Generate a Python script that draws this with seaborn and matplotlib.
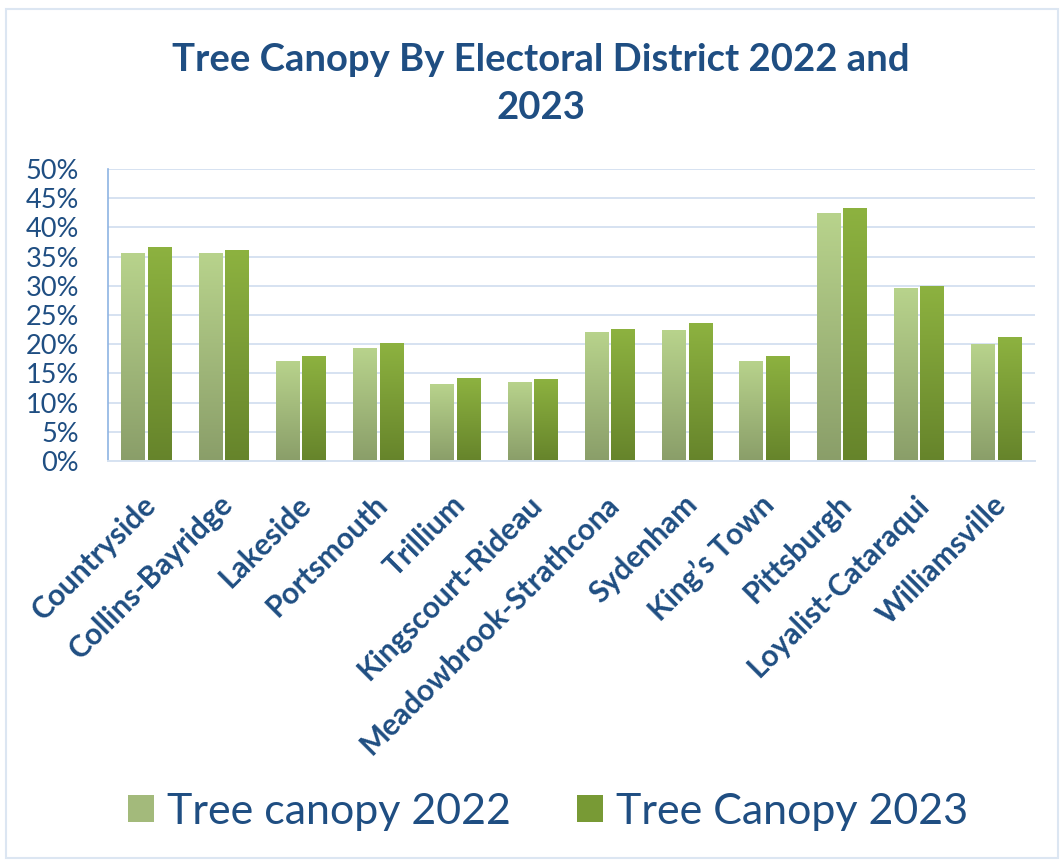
import numpy as np
import pandas as pd
import matplotlib
matplotlib.use("Agg")
import matplotlib.pyplot as plt
import seaborn as sns
from matplotlib.colors import LinearSegmentedColormap
from matplotlib.patches import Rectangle
from matplotlib.ticker import PercentFormatter
import matplotlib.transforms as mtransforms

districts = ["Countryside", "Collins-Bayridge", "Lakeside", "Portsmouth", "Trillium",
             "Kingscourt-Rideau", "Meadowbrook-Strathcona", "Sydenham", "King\u2019s Town",
             "Pittsburgh", "Loyalist-Cataraqui", "Williamsville"]
canopy_2022 = [35.6, 35.6, 17.2, 19.3, 13.1, 13.6, 22.1, 22.4, 17.2, 42.4, 29.6, 20.0]
canopy_2023 = [36.7, 36.1, 18.0, 20.2, 14.2, 14.1, 22.6, 23.6, 18.0, 43.3, 30.0, 21.2]
series_names = ["Tree canopy 2022", "Tree Canopy 2023"]
y_ticks = [0, 5, 10, 15, 20, 25, 30, 35, 40, 45, 50]

df = pd.DataFrame({
    "District": districts * 2,
    "Value": canopy_2022 + canopy_2023,
    "Series": [series_names[0]] * len(districts) + [series_names[1]] * len(districts),
})

sns.set_theme(style="white")
plt.rcParams["font.family"] = ["Lato", "DejaVu Sans"]

TXT = "#1F4E82"
top_cols = ["#B8D38C", "#8DB240"]
bot_cols = ["#8A9E69", "#66842B"]
mid_cols = ["#A3BA7B", "#789A35"]

fig = plt.figure(figsize=(10.60, 8.61), dpi=100)
ax = fig.add_axes([0.1019, 0.4646, 0.8745, 0.3391])

sns.barplot(data=df, x="District", y="Value", hue="Series", order=districts,
            hue_order=series_names, palette=mid_cols, width=0.69, gap=0.1,
            saturation=1, ax=ax, legend=True, errorbar=None)

n = len(districts)
# gradient fills clipped to each bar
for i, patch in enumerate(list(ax.patches)[: 2 * n]):
    s = i // n
    cmap = LinearSegmentedColormap.from_list(f"g{s}", [bot_cols[s], top_cols[s]])
    x0 = patch.get_x()
    w = patch.get_width()
    h = patch.get_height()
    grad = np.linspace(0, 1, 256).reshape(-1, 1)
    im = ax.imshow(grad, extent=[x0, x0 + w, 0, h], origin="lower", aspect="auto",
                   cmap=cmap, zorder=2.5, interpolation="bicubic")
    im.set_clip_path(patch)
    patch.set_facecolor("none")
    patch.set_edgecolor("none")

ax.set_ylim(0, 50)
ax.set_xlim(-0.5, n - 0.5)

ax.set_yticks(y_ticks)
ax.yaxis.set_major_formatter(PercentFormatter(decimals=0))
ax.grid(axis="y", color="#D6E2F1", linewidth=1.4)
ax.set_axisbelow(True)
for sp in ["top", "right"]:
    ax.spines[sp].set_visible(False)
ax.spines["left"].set_color("#8EB4E3")
ax.spines["left"].set_linewidth(1.2)
ax.spines["bottom"].set_color("#D6E2F1")
ax.spines["bottom"].set_linewidth(1.4)
ax.set_xlabel("")
ax.set_ylabel("")
ax.tick_params(axis="y", length=0, pad=21, labelsize=19.5, labelcolor=TXT)
ax.tick_params(axis="x", length=0, pad=28, labelcolor=TXT)
ax.set_xticks(range(n))
ax.set_xticklabels(districts, rotation=45, ha="right", va="center",
                   rotation_mode="anchor", fontsize=21.5, fontweight="bold")
offset = mtransforms.ScaledTranslation(5 / 100, 0, fig.dpi_scale_trans)
for lab in ax.get_xticklabels():
    lab.set_transform(lab.get_transform() + offset)

# legend
handles = [Rectangle((0, 0), 1, 1, facecolor=mid_cols[k], edgecolor="none") for k in range(2)]
leg = ax.get_legend()
if leg is not None:
    leg.remove()
fig.legend(handles, series_names, loc="center", bbox_to_anchor=(0.517, 0.057),
           ncol=2, frameon=False, fontsize=31, handlelength=0.6, handleheight=0.6,
           handletextpad=0.3, columnspacing=1.55, labelcolor=TXT)

fig.text(0.51, 0.903, "Tree Canopy By Electoral District 2022 and\n2023",
         ha="center", va="center", fontsize=27.5, fontweight="bold", color=TXT,
         linespacing=1.5)

# outer chart border
fig.patches.append(Rectangle((0.006, 0.003), 0.992, 0.986, transform=fig.transFigure,
                             fill=False, edgecolor="#DCE6F2", linewidth=1.5))

fig.savefig("out.png", dpi=100, facecolor="white")
